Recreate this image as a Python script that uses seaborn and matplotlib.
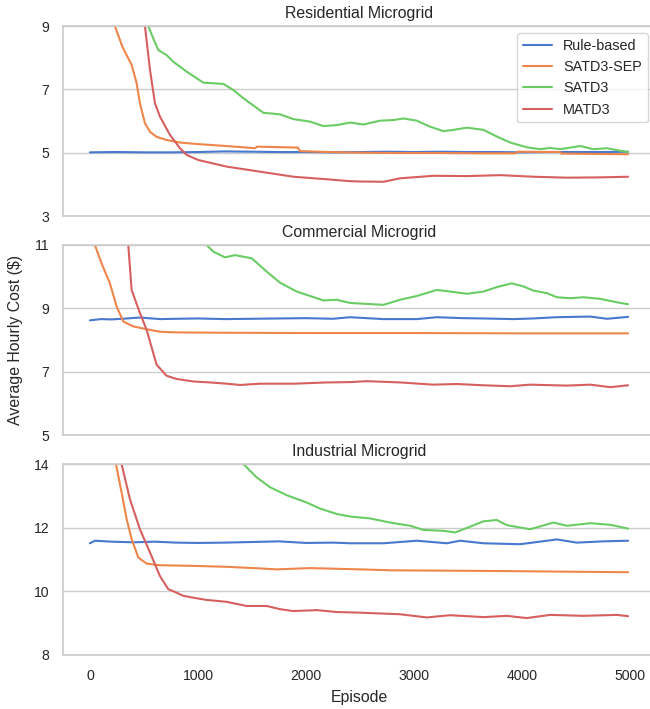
import matplotlib
matplotlib.use("Agg")
import matplotlib.pyplot as plt
import pandas as pd
import seaborn as sns

methods = ["Rule-based", "SATD3-SEP", "SATD3", "MATD3"]
panel_titles = ["Residential Microgrid", "Commercial Microgrid", "Industrial Microgrid"]
y_limits = [(3, 9), (5, 11), (8, 14)]
y_ticks = [[3, 5, 7, 9], [5, 7, 9, 11], [8, 10, 12, 14]]
x_ticks = [0, 1000, 2000, 3000, 4000, 5000]

# ---------------- Residential ----------------
res_rb_x = [0, 250, 500, 750, 1000, 1250, 1500, 1750, 2000, 2250, 2500, 2750, 3000,
            3250, 3500, 3750, 4000, 4250, 4500, 4750, 4980]
res_rb_y = [5.01, 5.02, 5.01, 5.01, 5.02, 5.04, 5.03, 5.02, 5.02, 5.01, 5.02, 5.03, 5.02,
            5.03, 5.02, 5.02, 5.01, 5.02, 5.02, 5.02, 5.03]
res_sep_x = [0, 150, 231, 300, 386, 432, 463, 509, 556, 617, 710, 833, 1000, 1265, 1530,
             1545, 1925, 1945, 2200, 2500, 2800, 3200, 3600, 3940, 3955, 4350, 4365, 4700, 4980]
res_sep_y = [12.0, 9.8, 9.0, 8.35, 7.77, 7.2, 6.56, 5.93, 5.66, 5.5, 5.4, 5.32, 5.27, 5.21, 5.14,
             5.19, 5.16, 5.05, 5.02, 5.0, 4.99, 4.99, 4.98, 4.98, 5.03, 5.02, 4.97, 4.96, 4.95]
res_satd_x = [0, 400, 540, 586, 633, 710, 772, 895, 1049, 1142, 1235, 1327, 1420, 1605, 1759,
              1883, 2037, 2160, 2284, 2407, 2531, 2685, 2809, 2901, 3025, 3148, 3272, 3364,
              3488, 3642, 3765, 3889, 4043, 4167, 4259, 4352, 4537, 4660, 4784, 4907, 4980]
res_satd_y = [14.0, 10.2, 9.0, 8.61, 8.24, 8.08, 7.87, 7.56, 7.21, 7.19, 7.17, 6.98, 6.72, 6.26,
              6.21, 6.06, 5.98, 5.84, 5.87, 5.95, 5.89, 6.01, 6.03, 6.08, 6.01, 5.82, 5.68, 5.72,
              5.79, 5.72, 5.51, 5.32, 5.17, 5.11, 5.15, 5.11, 5.21, 5.11, 5.14, 5.06, 5.02]
res_ma_x = [0, 400, 509, 556, 602, 648, 741, 833, 895, 1000, 1265, 1574, 1883, 2191, 2407,
            2500, 2716, 2870, 3179, 3488, 3796, 4105, 4414, 4722, 4980]
res_ma_y = [16.0, 12.5, 9.0, 7.61, 6.56, 6.14, 5.56, 5.14, 4.93, 4.77, 4.56, 4.4, 4.24, 4.16, 4.1,
            4.09, 4.08, 4.19, 4.27, 4.26, 4.29, 4.24, 4.21, 4.22, 4.24]

# ---------------- Commercial ----------------
com_rb_x = [0, 100, 200, 300, 463, 648, 800, 1000, 1250, 1500, 1750, 2000, 2250, 2407, 2716,
            3025, 3210, 3450, 3642, 3920, 4100, 4321, 4630, 4784, 4980]
com_rb_y = [8.62, 8.66, 8.65, 8.67, 8.71, 8.66, 8.67, 8.68, 8.66, 8.67, 8.68, 8.69, 8.67, 8.72,
            8.66, 8.66, 8.72, 8.69, 8.68, 8.66, 8.68, 8.72, 8.74, 8.67, 8.73]
com_sep_x = [0, 46, 108, 185, 247, 309, 401, 525, 648, 802, 1200, 2000, 3000, 4000, 4980]
com_sep_y = [12.0, 11.0, 10.42, 9.79, 9.06, 8.58, 8.43, 8.34, 8.26, 8.24, 8.23, 8.22, 8.22, 8.21, 8.21]
com_satd_x = [0, 900, 1080, 1142, 1250, 1343, 1497, 1636, 1759, 1914, 2037, 2160, 2284, 2407,
              2716, 2870, 3025, 3210, 3333, 3488, 3642, 3765, 3904, 4012, 4105, 4228, 4321,
              4444, 4568, 4722, 4877, 4980]
com_satd_y = [14.0, 11.6, 11.0, 10.79, 10.61, 10.68, 10.58, 10.16, 9.81, 9.53, 9.39, 9.25, 9.27,
              9.17, 9.11, 9.27, 9.39, 9.58, 9.53, 9.46, 9.53, 9.67, 9.79, 9.69, 9.56, 9.48, 9.35,
              9.32, 9.35, 9.30, 9.19, 9.13]
com_ma_x = [0, 300, 355, 386, 463, 525, 617, 710, 802, 957, 1111, 1265, 1389, 1574, 1883, 2191,
            2407, 2562, 2870, 3179, 3395, 3642, 3889, 4074, 4414, 4630, 4815, 4980]
com_ma_y = [16.0, 13.5, 11.0, 9.58, 8.85, 8.32, 7.22, 6.87, 6.77, 6.69, 6.66, 6.62, 6.58, 6.62,
            6.62, 6.66, 6.67, 6.70, 6.66, 6.59, 6.61, 6.57, 6.54, 6.59, 6.56, 6.59, 6.51, 6.57]

# ---------------- Industrial ----------------
ind_rb_x = [0, 46, 200, 400, 600, 800, 1000, 1250, 1500, 1750, 2000, 2250, 2407, 2716, 3025,
            3302, 3426, 3642, 3981, 4321, 4506, 4750, 4980]
ind_rb_y = [11.51, 11.59, 11.56, 11.54, 11.56, 11.53, 11.52, 11.53, 11.55, 11.57, 11.52, 11.53,
            11.51, 11.51, 11.59, 11.51, 11.59, 11.51, 11.48, 11.63, 11.53, 11.57, 11.59]
ind_sep_x = [0, 200, 241, 293, 340, 386, 448, 525, 648, 957, 1265, 1574, 1728, 2037, 2500, 2800,
             3700, 4980]
ind_sep_y = [16.5, 14.7, 14.0, 13.11, 12.27, 11.64, 11.06, 10.87, 10.82, 10.80, 10.77, 10.72,
             10.69, 10.73, 10.69, 10.66, 10.64, 10.60]
ind_satd_x = [0, 1200, 1420, 1543, 1667, 1821, 2006, 2130, 2284, 2407, 2593, 2778, 2963, 3086,
              3272, 3380, 3488, 3642, 3765, 3858, 4074, 4290, 4414, 4630, 4815, 4980]
ind_satd_y = [20.0, 14.75, 14.0, 13.58, 13.27, 13.02, 12.79, 12.60, 12.43, 12.35, 12.29, 12.16,
              12.06, 11.93, 11.90, 11.85, 11.99, 12.20, 12.24, 12.08, 11.95, 12.16, 12.06, 12.14,
              12.09, 11.97]
ind_ma_x = [0, 250, 293, 370, 463, 556, 648, 725, 787, 864, 957, 1080, 1265, 1451, 1636, 1759,
            1883, 2099, 2284, 2500, 2870, 3117, 3333, 3642, 3858, 4043, 4259, 4568, 4877, 4980]
ind_ma_y = [17.0, 14.6, 14.0, 12.90, 11.95, 11.22, 10.48, 10.07, 9.98, 9.86, 9.80, 9.73, 9.67,
            9.54, 9.54, 9.44, 9.38, 9.41, 9.35, 9.33, 9.28, 9.18, 9.25, 9.19, 9.23, 9.16, 9.26,
            9.23, 9.26, 9.22]

panels = [
    [(res_rb_x, res_rb_y), (res_sep_x, res_sep_y), (res_satd_x, res_satd_y), (res_ma_x, res_ma_y)],
    [(com_rb_x, com_rb_y), (com_sep_x, com_sep_y), (com_satd_x, com_satd_y), (com_ma_x, com_ma_y)],
    [(ind_rb_x, ind_rb_y), (ind_sep_x, ind_sep_y), (ind_satd_x, ind_satd_y), (ind_ma_x, ind_ma_y)],
]

sns.set_theme(style="whitegrid", palette="muted")
plt.rcParams["font.family"] = ["Liberation Sans", "DejaVu Sans"]

W, H = 650, 709
fig = plt.figure(figsize=(W / 100, H / 100), dpi=100)
left_px, right_px = 63, 655
tops = [26, 245, 464]
bottoms = [216, 435, 655]

axes = []
for i in range(3):
    ax = fig.add_axes([left_px / W, 1 - bottoms[i] / H, (right_px - left_px) / W,
                       (bottoms[i] - tops[i]) / H])
    axes.append(ax)
    frames = []
    for m, (xs, ys) in zip(methods, panels[i]):
        frames.append(pd.DataFrame({"Episode": xs, "Cost": ys, "Method": m}))
    df = pd.concat(frames, ignore_index=True)
    sns.lineplot(data=df, x="Episode", y="Cost", hue="Method", hue_order=methods,
                 estimator=None, sort=True, linewidth=1.5, ax=ax, legend=(i == 0))
    ax.set_xlim(-249, 5229)
    ax.set_ylim(*y_limits[i])
    ax.set_yticks(y_ticks[i])
    ax.set_xticks(x_ticks)
    ax.xaxis.grid(False)
    ax.tick_params(axis="both", length=0, pad=10, labelsize=10.1, colors=".15")
    ax.set_title(panel_titles[i], fontsize=11.4, color=".15", pad=6)
    ax.set_ylabel("")
    ax.set_xlabel("")
    if i < 2:
        ax.tick_params(labelbottom=False)
    for s in ax.spines.values():
        s.set_color(".8")

h, l = axes[0].get_legend_handles_labels()
axes[0].legend(h, l, loc="upper right", fontsize=10.4, frameon=True)

axes[1].set_ylabel("Average Hourly Cost ($)", fontsize=11.4, color=".15")
axes[1].yaxis.set_label_coords((23 - left_px) / (right_px - left_px), 0.5)
axes[2].set_xlabel("Episode", fontsize=11.4, color=".15", labelpad=5)

fig.savefig("out.png", dpi=100)
